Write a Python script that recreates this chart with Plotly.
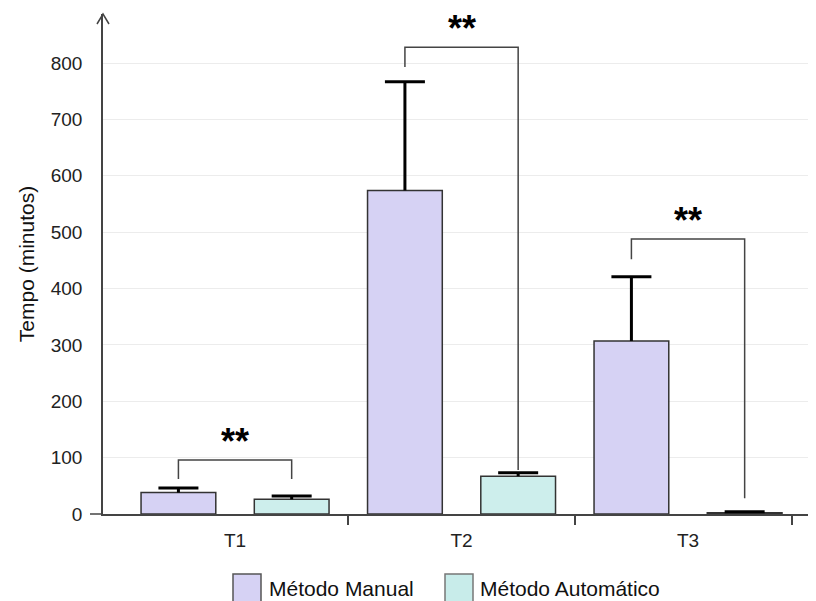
import plotly.graph_objects as go

categories = ["T1", "T2", "T3"]
manual_vals = [38, 574, 307]
manual_err = [8, 193, 114]
auto_vals = [26, 67, 2]
auto_err = [6, 6, 2]
y_ticks = [0, 100, 200, 300, 400, 500, 600, 700, 800]

# significance brackets: top y, left leg bottom, right leg bottom
br_top = [96, 828, 488]
br_left_bottom = [62, 793, 452]
br_right_bottom = [62, 78, 28]
br_label = ["**", "**", "**"]

series_names = ["Método Manual", "Método Automático"]
manual_color = "#d6d2f4"
auto_color = "#cdeeec"

xi = list(range(len(categories)))
OFF = 8  # page body margin
W, H = 808, 593
L, R, T, B = 95, 0, 6, 87
pw = W - L - R
ph = H - T - B
x_range = [-0.583, 2.565]
cap_half = 20 / pw * (x_range[1] - x_range[0])


def px_x(s):
    return (s - OFF - L) / pw


def px_y(s):
    return (H - B - (s - OFF)) / ph


fig = go.Figure()
for vals, errs, col, name, off in [(manual_vals, manual_err, manual_color, series_names[0], -0.25),
                                   (auto_vals, auto_err, auto_color, series_names[1], 0.25)]:
    fig.add_trace(go.Bar(
        x=xi, y=vals, name=name,
        marker=dict(color=col, line=dict(color="#333333", width=1.5)),
        error_y=dict(type="data", symmetric=False, array=errs,
                     arrayminus=[0] * len(errs), color="black", thickness=3, width=0),
        showlegend=False,
    ))
    # error bar caps
    fig.add_trace(go.Scatter(
        x=[i + off for i in xi], y=[v + e for v, e in zip(vals, errs)],
        mode="markers", marker=dict(size=1, opacity=0),
        error_x=dict(type="constant", value=cap_half, symmetric=True,
                     color="black", thickness=3, width=0),
        showlegend=False, hoverinfo="skip",
    ))

shapes = []
annotations = []
lc = "#444444"
for i in xi:
    xl, xr = i - 0.25, i + 0.25
    shapes.append(dict(type="path", xref="x", yref="y",
                       path=f"M {xl} {br_left_bottom[i]} L {xl} {br_top[i]} L {xr} {br_top[i]} L {xr} {br_right_bottom[i]}",
                       line=dict(color=lc, width=1.5)))
    annotations.append(dict(x=i, y=br_top[i], xref="x", yref="y", text="<b>" + br_label[i] + "</b>",
                            showarrow=False, yanchor="bottom", yshift=-4,
                            font=dict(family="Liberation Sans", size=36, color="black")))

# x axis extension to the left of the y axis
shapes.append(dict(type="line", xref="paper", yref="paper", x0=px_x(90), x1=0, y0=0, y1=0,
                   line=dict(color=lc, width=1.5)))
# y axis arrow head
shapes.append(dict(type="path", xref="paper", yref="paper", xsizemode="pixel", ysizemode="pixel",
                   xanchor=0, yanchor=1, path="M -6 -10 L 0 0 L 6 -10",
                   line=dict(color=lc, width=1.5)))

# custom legend
leg_items = [(233, 267, manual_color, "#555555", series_names[0]),
             (445, 478, "#c8ecea", "#777777", series_names[1])]
for sx, tx, col, bcol, name in leg_items:
    shapes.append(dict(type="rect", xref="paper", yref="paper",
                       x0=px_x(sx), x1=px_x(sx + 28), y0=px_y(574), y1=px_y(603),
                       fillcolor=col, line=dict(color=bcol, width=1.5)))
    annotations.append(dict(x=px_x(tx), y=px_y(588), xref="paper", yref="paper", text=name,
                            showarrow=False, xanchor="left", yanchor="middle",
                            font=dict(family="Liberation Sans", size=21, color="#111111")))

fig.update_layout(
    width=W, height=H,
    margin=dict(l=L, r=R, t=T, b=B),
    paper_bgcolor="white", plot_bgcolor="white",
    barmode="group", bargap=0, bargroupgap=0.34,
    font=dict(family="Liberation Sans", color="#222222"),
    shapes=shapes, annotations=annotations,
    xaxis=dict(range=x_range, tickvals=xi, ticktext=categories, ticks="",
               showline=True, linecolor=lc, linewidth=1.5, showgrid=False, zeroline=False,
               tickfont=dict(size=19, color="#222222"), ticklabelstandoff=8,
               minor=dict(tickvals=[0.5, 1.5, 2.46], ticks="outside", ticklen=9,
                          tickcolor=lc, tickwidth=1.5, showgrid=False)),
    yaxis=dict(range=[0, 887], tickvals=y_ticks, ticks="", showline=True, linecolor=lc,
               linewidth=1.5, showgrid=True, gridcolor="#ececec", gridwidth=1, zeroline=False,
               tickfont=dict(size=19, color="#222222"), ticklabelstandoff=15,
               title=dict(text="Tempo (minutos)", font=dict(size=21, color="#111111"), standoff=10)),
)

fig.write_html("out.html")
